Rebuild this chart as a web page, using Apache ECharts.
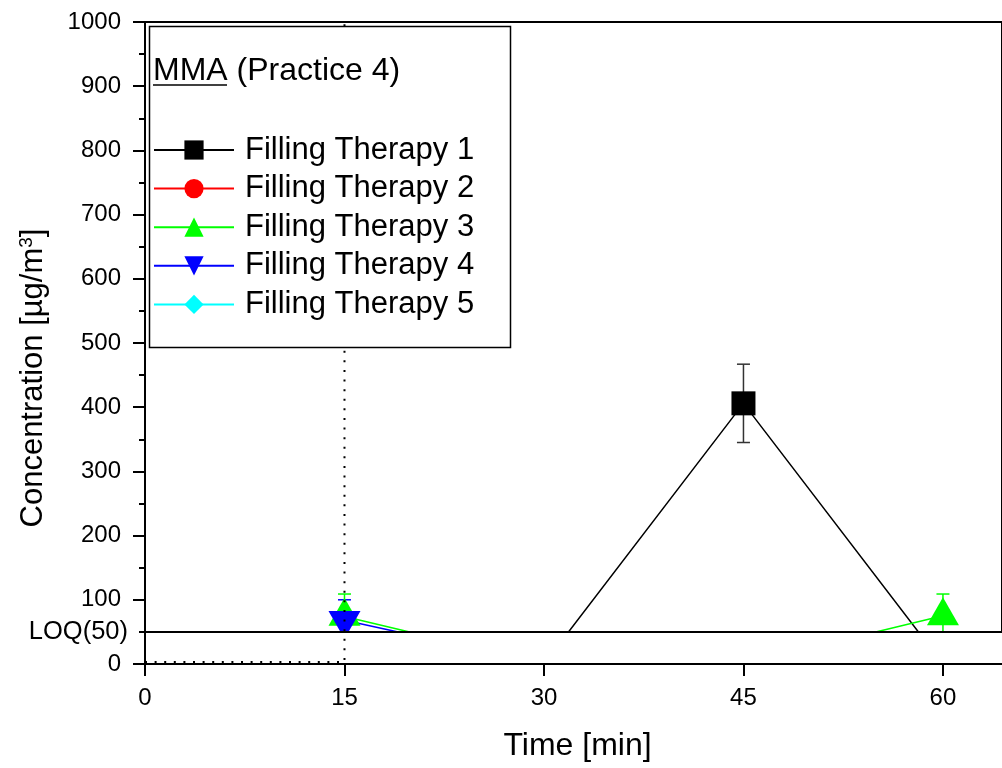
<!DOCTYPE html>
<html><head><meta charset="utf-8">
<script src="https://cdn.jsdelivr.net/npm/echarts@6/dist/echarts.min.js"></script>
<style>html,body{margin:0;padding:0;background:#fff}#c{width:1002px;height:768px}</style>
</head><body><div id="c"></div>
<script>
// ---- data ----
const times = [15, 30, 45, 60];
const ft1 = [0, 0, 406, 0];
const ft2 = [0, 0, 0, 0];
const ft3 = [74, 0, 0, 75];
const ft4 = [68, 0, 0, 0];
const ft5 = [0, 0, 0, 0];
const err1 = [0, 0, 61, 0];
const err3 = [35, 0, 0, 34];
const err4 = [32, 0, 0, 0];
const seriesNames = ['Filling Therapy 1', 'Filling Therapy 2', 'Filling Therapy 3', 'Filling Therapy 4', 'Filling Therapy 5'];
const LOQ = 50;
const LOQLabel = 'LOQ(50)';
const guideX = [0, 15, 15];
const guideY = [3, 3, 1000];
const xTicks = [0, 15, 30, 45, 60];
const xMin = 0, xMax = 64.44, xStep = 15;
const yMin = 0, yMax = 1000, yStep = 100;

const FONT = '"Liberation Sans", Arial, sans-serif';
const pairs = (xs, ys) => xs.map((x, i) => [x, ys[i]]);
const errData = (ys, es) => times.map((t, i) => [t, ys[i], es[i]]).filter(d => d[2] > 0);

function errRenderer(color) {
  return function (params, api) {
    const x = api.value(0), y = api.value(1), e = api.value(2);
    const top = api.coord([x, y + e]);
    const bot = api.coord([x, y - e]);
    const hw = 6.5;
    const st = { stroke: color, lineWidth: 1.5 };
    return { type: 'group', children: [
      { type: 'line', shape: { x1: top[0], y1: top[1], x2: bot[0], y2: bot[1] }, style: st },
      { type: 'line', shape: { x1: top[0] - hw, y1: top[1], x2: top[0] + hw, y2: top[1] }, style: st },
      { type: 'line', shape: { x1: bot[0] - hw, y1: bot[1], x2: bot[0] + hw, y2: bot[1] }, style: st }
    ]};
  };
}

function lineSeries(name, ys, color, symbol, size, extra) {
  return Object.assign({
    name: name, type: 'line', data: pairs(times, ys), z: 2,
    symbol: symbol, symbolSize: size, showAllSymbol: true,
    lineStyle: { color: color, width: 1.5 },
    itemStyle: { color: color },
    clip: true
  }, extra || {});
}

const chart = echarts.init(document.getElementById('c'), null, { renderer: 'canvas' });
chart.setOption({
  animation: false,
  backgroundColor: '#fff',
  textStyle: { fontFamily: FONT },
  grid: { left: 145, top: 22, right: 0, bottom: 104, show: true, borderColor: '#000', borderWidth: 2, backgroundColor: 'transparent' },
  xAxis: {
    type: 'value', min: xMin, max: xMax, interval: xStep, z: 10,
    axisLine: { lineStyle: { color: '#000', width: 2 } },
    axisTick: { length: 12, lineStyle: { color: '#000', width: 2 }, customValues: xTicks },
    axisLabel: { fontSize: 24, color: '#000', margin: 22, fontFamily: FONT, customValues: xTicks },
    splitLine: { show: false },
    name: 'Time [min]', nameLocation: 'middle', nameGap: 66,
    nameTextStyle: { fontSize: 32, color: '#000', fontFamily: FONT, padding: [0, 0, 0, 8] }
  },
  yAxis: {
    type: 'value', min: yMin, max: yMax, interval: yStep, z: 10,
    axisLine: { show: true, lineStyle: { color: '#000', width: 2 } },
    axisTick: { show: true, length: 12, lineStyle: { color: '#000', width: 2 } },
    minorTick: { show: true, splitNumber: 2, length: 6, lineStyle: { color: '#000', width: 2 } },
    axisLabel: { fontSize: 24, color: '#000', margin: 24, fontFamily: FONT, formatter: v => String(v) },
    splitLine: { show: false }
  },
  legend: {
    orient: 'vertical', left: 153, top: 134.5, itemWidth: 80, itemHeight: 24, itemGap: 7.6,
    padding: 0, selectedMode: false, z: 60, data: seriesNames,
    textStyle: { fontSize: 31, color: '#000', fontFamily: FONT, lineHeight: 31, padding: [0, 0, 0, 6] }
  },
  graphic: [
    { type: 'rect', z: 50, shape: { x: 149.5, y: 26.5, width: 361, height: 321 }, style: { fill: '#fff', stroke: '#000', lineWidth: 1.5 } },
    { type: 'text', z: 60, x: 153, y: 71, style: { text: 'MMA (Practice 4)', fontSize: 32, fontFamily: FONT, fill: '#000', verticalAlign: 'middle', align: 'left' } },
    { type: 'line', z: 60, shape: { x1: 153, y1: 85, x2: 227, y2: 85 }, style: { stroke: '#000', lineWidth: 1.5 } },
    { type: 'text', z: 60, x: 33, y: 378, rotation: Math.PI / 2,
      style: { text: '{a|Concentration [µg/m}{s|3}{a|]}', align: 'center', verticalAlign: 'middle', fill: '#000',
        rich: { a: { fontSize: 31, fontFamily: FONT, fill: '#000' }, s: { fontSize: 19, fontFamily: FONT, fill: '#000', verticalAlign: 'top' } } } }
  ],
  series: [
    { name: 'err1', type: 'custom', z: 1, renderItem: errRenderer('#333'), data: errData(ft1, err1), clip: true },
    { name: 'err3', type: 'custom', z: 1, renderItem: errRenderer('#00ff00'), data: errData(ft3, err3), clip: true },
    { name: 'err4', type: 'custom', z: 1, renderItem: errRenderer('#0000ff'), data: errData(ft4, err4), clip: true },
    lineSeries(seriesNames[0], ft1, '#000000', 'rect', 24),
    lineSeries(seriesNames[1], ft2, '#ff0000', 'circle', 26),
    lineSeries(seriesNames[2], ft3, '#00ff00', 'triangle', [32, 28], { symbolOffset: [0, -4.7] }),
    lineSeries(seriesNames[3], ft4, '#0000ff', 'triangle', [32, 28], { symbolRotate: 180, symbolOffset: [0, 4.7] }),
    lineSeries(seriesNames[4], ft5, '#00ffff', 'diamond', [26, 30]),
    { name: 'belowLOQ', type: 'custom', z: 5, clip: false, data: [[xMin, LOQ]],
      renderItem: function (params, api) {
        const p0 = api.coord([xMin, LOQ]);
        const p1 = api.coord([xMax, yMin]);
        return { type: 'rect', shape: { x: p0[0] + 1, y: p0[1], width: p1[0] - p0[0] + 20, height: p1[1] - p0[1] + 20 }, style: { fill: '#fff' } };
      } },
    { name: 'guide', type: 'line', z: 6, data: pairs(guideX, guideY), symbol: 'none', clip: true,
      lineStyle: { color: '#000', width: 2, type: [2, 7.6] },
      markLine: { silent: true, symbol: ['none', 'none'], z: 6,
        lineStyle: { color: '#000', width: 2, type: 'solid' },
        label: { show: true, position: 'start', formatter: LOQLabel, fontSize: 25.5, color: '#000', fontFamily: FONT, distance: 17 },
        data: [{ yAxis: LOQ }] } }
  ]
});
</script></body></html>
